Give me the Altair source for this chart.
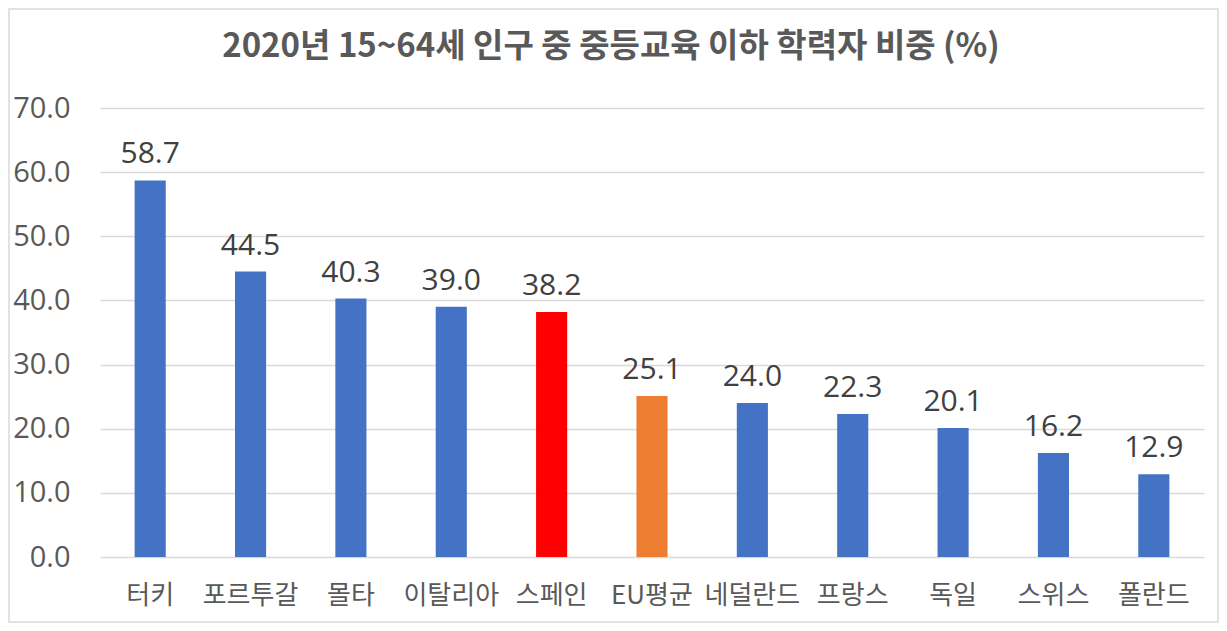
import altair as alt
import pandas as pd

title_text = "2020년 15~64세 인구 중 중등교육 이하 학력자 비중 (%)"
countries = ["터키", "포르투갈", "몰타", "이탈리아", "스페인", "EU평균", "네덜란드", "프랑스", "독일", "스위스", "폴란드"]
values = [58.7, 44.5, 40.3, 39.0, 38.2, 25.1, 24.0, 22.3, 20.1, 16.2, 12.9]
colors = ["#4472C4", "#4472C4", "#4472C4", "#4472C4", "#FF0000", "#ED7D31",
          "#4472C4", "#4472C4", "#4472C4", "#4472C4", "#4472C4"]
y_ticks = [0, 10, 20, 30, 40, 50, 60, 70]

df = pd.DataFrame({"country": countries, "value": values, "color": colors})

W, H = 1104, 449
PL, PT, PR, PB = 92, 100, 15, 66

x_enc = alt.X("country:N", sort=countries,
              scale=alt.Scale(paddingInner=0.69, paddingOuter=0.345),
              axis=alt.Axis(title=None, labelAngle=0, domain=False, ticks=False,
                            labelFont="Noto Sans CJK KR", labelFontSize=26,
                            labelColor="#595959", labelPadding=25, grid=False))
y_enc = alt.Y("value:Q", scale=alt.Scale(domain=[0, 70], nice=False),
              axis=alt.Axis(title=None, values=y_ticks, format=".1f", domain=False,
                            ticks=False, labelFont="Open Sans", labelFontSize=29,
                            labelColor="#595959", labelPadding=30,
                            gridColor="#D9D9D9", gridWidth=1.5))

bars = alt.Chart(df).mark_bar().encode(
    x=x_enc, y=y_enc, color=alt.Color("color:N", scale=None)
)

labels = alt.Chart(df).mark_text(
    baseline="alphabetic", dy=-17, font="Open Sans", fontSize=30, color="#404040"
).encode(x=alt.X("country:N", sort=countries), y="value:Q",
         text=alt.Text("value:Q", format=".1f"))

one = pd.DataFrame({"a": [0]})
border = alt.Chart(one).mark_rect(
    fill=None, stroke="#D9D9D9", strokeWidth=1.5
).encode(x=alt.value(-PL + 1), x2=alt.value(W + PR - 1),
         y=alt.value(-PT + 1), y2=alt.value(H + PB - 1))

title = alt.Chart(one).mark_text(
    font="Noto Sans CJK KR", fontSize=33, fontWeight="bold", color="#595959",
    align="center", baseline="middle"
).encode(x=alt.value(603 - PL), y=alt.value(39 - PT), text=alt.value(title_text))

chart = alt.layer(border, bars, labels, title).properties(
    width=W, height=H,
    padding={"left": PL, "top": PT, "right": PR, "bottom": PB},
    autosize=alt.AutoSizeParams(type="none"),
).configure_view(stroke=None)

chart.save("out.html", embed_options={"renderer": "svg", "actions": False})
